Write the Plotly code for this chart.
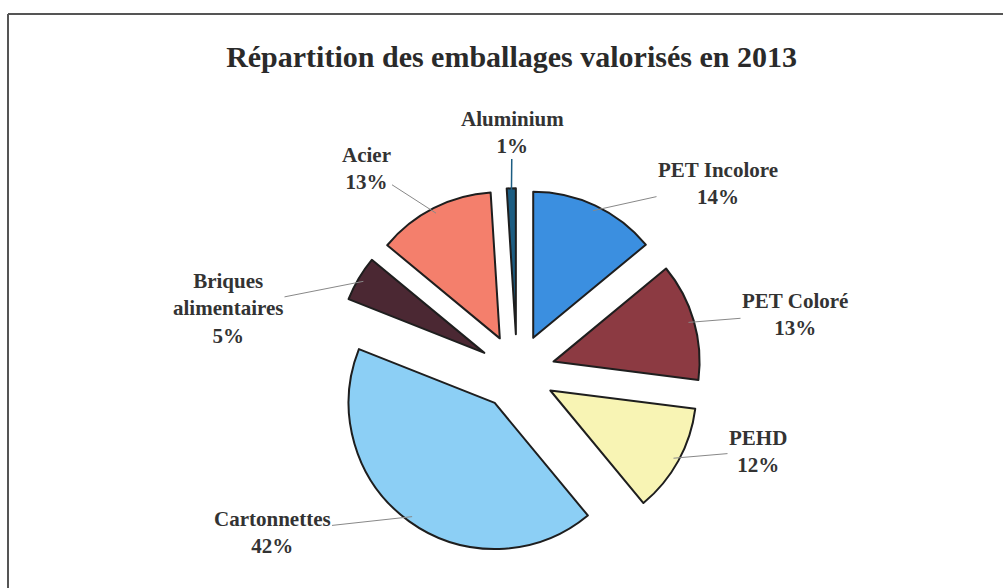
import math

import plotly.graph_objects as go

labels = ['PET Incolore', 'PET Coloré', 'PEHD', 'Cartonnettes',
          'Briques<br>alimentaires', 'Acier', 'Aluminium']
values = [14, 13, 12, 42, 5, 13, 1]
colors = ['#3b8fe0', '#8c3a42', '#f8f4b4', '#8ccff5', '#4b2833', '#f47f6c', '#1c5d82']
# where each label's text block is centred (px)
text_pos = [(718, 183), (795, 314), (758, 451), (272, 532), (228, 308), (366, 168), (512, 132)]
line_colors = ['#888888'] * 6 + ['#1c5d82']

W, H = 1003, 588
dom_x = [0.332, 0.699]
dom_y = [0.054, 0.680]
pull = 0.26

fig = go.Figure()
fig.add_trace(go.Pie(
    labels=labels, values=values, sort=False, direction='clockwise', rotation=0,
    pull=pull, textinfo='none', showlegend=False,
    marker=dict(colors=colors, line=dict(color='#1e1e1e', width=2)),
    domain=dict(x=dom_x, y=dom_y)
))

# leader lines start at the outer edge of each slice (mid-angle)
cx = W * sum(dom_x) / 2
cy = H * (2 - sum(dom_y)) / 2
r = min(W * (dom_x[1] - dom_x[0]), H * (dom_y[1] - dom_y[0])) / (2 + 2 * pull)
total = sum(values)
cum = 0
for lab, val, (tx, ty), lc in zip(labels, values, text_pos, line_colors):
    mid = (cum + val / 2) / total * 2 * math.pi
    cum += val
    ex = cx + r * (1 + pull) * 0.97 * math.sin(mid)
    ey = cy - r * (1 + pull) * 0.97 * math.cos(mid)
    fig.add_annotation(
        x=ex / W, y=1 - ey / H, xref='paper', yref='paper',
        ax=tx - ex, ay=ty - ey, text=f"<b>{lab}<br>{round(val / total * 100)}%</b>",
        showarrow=True, arrowhead=0, arrowwidth=1.5 if lc != '#888888' else 1,
        arrowcolor=lc, standoff=0,
        font=dict(family='Liberation Serif', size=21, color='#333333')
    )

# scanned frame: only top and left edges are visible
fig.add_shape(type='line', xref='paper', yref='paper',
              x0=8 / W, x1=1, y0=1 - 14 / H, y1=1 - 14 / H,
              line=dict(color='#555555', width=2))
fig.add_shape(type='line', xref='paper', yref='paper',
              x0=8 / W, x1=8 / W, y0=0, y1=1 - 14 / H,
              line=dict(color='#555555', width=2))

fig.update_layout(
    title=dict(text='<b>Répartition des emballages valorisés en 2013</b>',
               x=0.51, xanchor='center', y=1 - 56 / H, yanchor='middle',
               font=dict(family='Liberation Serif', size=30, color='#2a2a2a')),
    width=W, height=H,
    margin=dict(l=0, r=0, t=0, b=0),
    paper_bgcolor='white'
)

fig.write_html("out.html", config={'displayModeBar': False},
               post_script="document.body.style.margin='0';")
